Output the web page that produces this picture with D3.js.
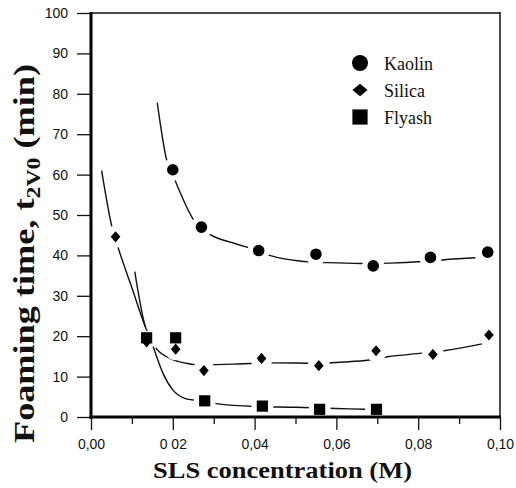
<!DOCTYPE html>
<html><head><meta charset="utf-8">
<script src="https://cdn.jsdelivr.net/npm/d3@7/dist/d3.min.js"></script>
<style>
html,body{margin:0;padding:0;background:#fff;}
svg{display:block;}
</style></head>
<body>
<svg id="chart" width="516" height="488"></svg>
<script>
// ---- data ----
const xTicks = [0, 0.02, 0.04, 0.06, 0.08, 0.10];
const xTickLabels = ["0,00", "0 02", "0,04", "0,06", "0,08", "0,10"];
const xMinorTicks = [0.01, 0.03, 0.05, 0.07, 0.09];
const yTicks = [0, 10, 20, 30, 40, 50, 60, 70, 80, 90, 100];
const yTickLabels = ["0", "10", "20", "30", "40", "50", "60", "70", "80", "90", "100"];

const seriesNames = ["Kaolin", "Silica", "Flyash"];

const kaolinX = [0.020, 0.027, 0.041, 0.055, 0.069, 0.083, 0.097];
const kaolinY = [61.2, 47.0, 41.2, 40.3, 37.4, 39.5, 40.8];
const silicaX = [0.006, 0.0136, 0.0207, 0.0276, 0.0417, 0.0557, 0.0697, 0.0836, 0.0973];
const silicaY = [44.6, 18.6, 16.8, 11.5, 14.5, 12.7, 16.4, 15.5, 20.3];
const flyashX = [0.0136, 0.0207, 0.0278, 0.0419, 0.0559, 0.0698];
const flyashY = [19.6, 19.6, 4.0, 2.7, 1.9, 1.9];

// fitted curves
const kaolinFitX = [0.0162, 0.0184, 0.0205, 0.0254, 0.0294, 0.035, 0.040, 0.0437, 0.051, 0.058, 0.066, 0.073, 0.081, 0.087, 0.094];
const kaolinFitY = [77.8, 64.0, 58.7, 48.3, 45.0, 43.0, 41.4, 40.0, 38.6, 38.2, 38.0, 38.1, 38.5, 39.0, 39.4];
const silicaFitX = [0.0026, 0.0052, 0.0067, 0.010, 0.0133, 0.0145, 0.0156, 0.0193, 0.0233, 0.0262, 0.035, 0.045, 0.055, 0.062, 0.068, 0.0725, 0.081, 0.0863, 0.0956];
const silicaFitY = [61.0, 46.7, 41.7, 32.0, 22.3, 19.5, 17.4, 14.5, 13.3, 12.9, 13.1, 13.4, 13.3, 13.6, 14.1, 14.9, 15.8, 16.4, 18.1];
const flyashFitX = [0.0107, 0.0133, 0.0145, 0.0152, 0.0176, 0.020, 0.0229, 0.025, 0.0306, 0.040, 0.050, 0.060, 0.067];
const flyashFitY = [36.0, 22.3, 19.5, 17.4, 10.8, 6.7, 4.6, 4.2, 3.3, 2.6, 2.4, 2.1, 1.9];

// ---- drawing ----
const svg = d3.select("#chart");
const x = d3.scaleLinear().domain([0, 0.1]).range([91, 500]);
const y = d3.scaleLinear().domain([0, 100]).range([417, 13]);

const defs = svg.append("defs");

const series = [
  {name: "Kaolin", xs: kaolinX, ys: kaolinY, fx: kaolinFitX, fy: kaolinFitY, shape: "circle"},
  {name: "Silica", xs: silicaX, ys: silicaY, fx: silicaFitX, fy: silicaFitY, shape: "diamond"},
  {name: "Flyash", xs: flyashX, ys: flyashY, fx: flyashFitX, fy: flyashFitY, shape: "square"}
];

function markerPath(shape, s) {
  if (shape === "circle") return d3.symbol().type(d3.symbolCircle).size(Math.PI * s.r * s.r)();
  if (shape === "square") return `M${-s.h},${-s.h}H${s.h}V${s.h}H${-s.h}Z`;
  return `M0,${-s.dy}L${s.dx},0L0,${s.dy}L${-s.dx},0Z`;
}
const dataSize = {circle: {r: 5.8}, square: {h: 5.6}, diamond: {dx: 4.8, dy: 5.6}};
const legendSize = {circle: {r: 8}, square: {h: 7.6}, diamond: {dx: 7.6, dy: 6.2}};

const line = d3.line().x(d => x(d[0])).y(d => y(d[1])).curve(d3.curveMonotoneX);

series.forEach((s, i) => {
  const m = defs.append("mask").attr("id", "mask" + i).attr("maskUnits", "userSpaceOnUse")
    .attr("x", 0).attr("y", 0).attr("width", 516).attr("height", 488);
  m.append("rect").attr("x", 0).attr("y", 0).attr("width", 516).attr("height", 488).attr("fill", "#fff");
  m.selectAll("circle").data(s.xs.map((v, k) => [v, s.ys[k]])).join("circle")
    .attr("cx", d => x(d[0])).attr("cy", d => y(d[1])).attr("r", 11).attr("fill", "#000");
  svg.append("path")
    .datum(s.fx.map((v, k) => [v, s.fy[k]]))
    .attr("d", line)
    .attr("fill", "none").attr("stroke", "#111").attr("stroke-width", 1.4)
    .attr("mask", `url(#mask${i})`);
});

series.forEach(s => {
  svg.append("g").selectAll("path").data(s.xs.map((v, k) => [v, s.ys[k]])).join("path")
    .attr("d", markerPath(s.shape, dataSize[s.shape]))
    .attr("transform", d => `translate(${x(d[0])},${y(d[1])})`)
    .attr("fill", "#000");
});

// axes
const yAxis = d3.axisLeft(y).tickValues(yTicks).tickFormat((d, i) => yTickLabels[i]).tickSize(14).tickPadding(9);
const gy = svg.append("g").attr("transform", "translate(91,0)").call(yAxis);
const xAxis = d3.axisBottom(x).tickValues(xTicks).tickFormat((d, i) => xTickLabels[i]).tickSize(13).tickPadding(9);
const gx = svg.append("g").attr("transform", "translate(0,417)").call(xAxis);
const xMinor = d3.axisBottom(x).tickValues(xMinorTicks).tickFormat("").tickSize(7);
const gxm = svg.append("g").attr("transform", "translate(0,417)").call(xMinor);
[gy, gx, gxm].forEach(g => {
  g.select(".domain").remove();
  g.selectAll("line").attr("stroke", "#111").attr("stroke-width", 1.3);
  g.selectAll("text").attr("fill", "#111").style("font-family", "'Liberation Sans', Arial, sans-serif").style("font-size", "14px");
});

// frame
svg.append("line").attr("x1", 91).attr("x2", 500).attr("y1", 13).attr("y2", 13).attr("stroke", "#111").attr("stroke-width", 1.6);
svg.append("line").attr("x1", 500).attr("x2", 500).attr("y1", 12).attr("y2", 418).attr("stroke", "#111").attr("stroke-width", 1.5);
svg.append("line").attr("x1", 91).attr("x2", 91).attr("y1", 12).attr("y2", 419).attr("stroke", "#000").attr("stroke-width", 3);
svg.append("line").attr("x1", 89.5).attr("x2", 501).attr("y1", 417).attr("y2", 417).attr("stroke", "#000").attr("stroke-width", 3);

// legend
const lg = svg.append("g");
series.forEach((s, i) => {
  const cy = 63 + i * 27;
  lg.append("path").attr("d", markerPath(s.shape, legendSize[s.shape]))
    .attr("transform", `translate(360,${cy})`).attr("fill", "#000");
  lg.append("text").attr("x", 384).attr("y", cy + 6.5).text(seriesNames[i])
    .style("font-family", "'Liberation Serif', 'Times New Roman', serif").style("font-size", "18px").attr("fill", "#111");
});

// axis titles
svg.append("text").attr("x", 153).attr("y", 477.5)
  .attr("textLength", 259).attr("lengthAdjust", "spacingAndGlyphs")
  .style("font-family", "'Liberation Serif', 'Times New Roman', serif").style("font-size", "24px").style("font-weight", "bold")
  .attr("fill", "#111").text("SLS concentration (M)");

const yt = svg.append("text").attr("transform", "translate(34,443) rotate(-90) scale(1.25,1)")
  .style("font-family", "'Liberation Serif', 'Times New Roman', serif").style("font-size", "29px").style("font-weight", "bold")
  .attr("fill", "#111");
yt.append("tspan").text("Foaming time, t");
yt.append("tspan").attr("dy", 6).style("font-size", "19px").text("2V0");
yt.append("tspan").attr("dy", -6).text(" (min)");
</script>
</body></html>
